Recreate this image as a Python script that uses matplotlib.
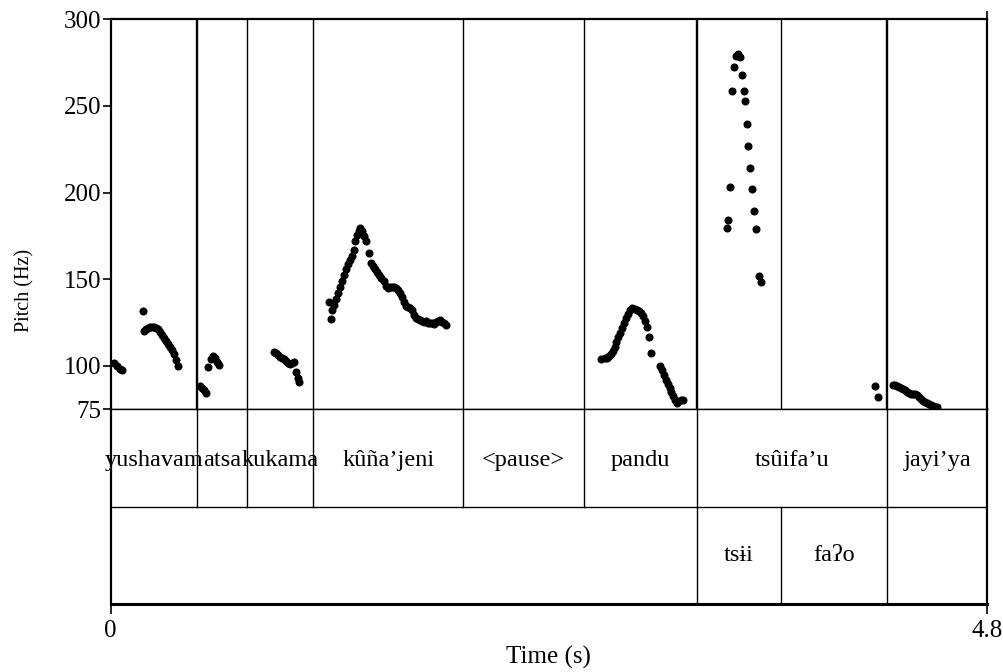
import matplotlib
matplotlib.use("Agg")
import matplotlib.pyplot as plt

plt.rcParams['font.family'] = ['Liberation Serif', 'DejaVu Serif']

# f0 track (time in s, pitch in Hz), one pair of lists per voiced stretch
t_yushavam = [0.016, 0.033, 0.049, 0.060,
              0.175, 0.181, 0.192, 0.203, 0.213, 0.224, 0.235, 0.246, 0.257, 0.268,
              0.279, 0.290, 0.301, 0.312, 0.323, 0.334, 0.345, 0.356, 0.367]
f_yushavam = [101.6, 99.9, 98.1, 97.6,
              131.7, 120.1, 121.3, 121.8, 122.4, 122.4, 122.4, 121.8, 121.3, 119.5,
              117.8, 116.1, 114.3, 112.6, 110.9, 109.1, 106.8, 103.3, 99.9]

t_atsa = [0.487, 0.498, 0.509, 0.520, 0.531, 0.547, 0.558, 0.569, 0.580, 0.591]
f_atsa = [88.3, 87.1, 86.0, 84.3, 99.3, 103.9, 105.7, 104.5, 102.2, 100.5]

t_kukama = [0.892, 0.903, 0.914, 0.925, 0.936, 0.947, 0.958, 0.969, 0.980, 0.991,
            1.002, 1.013, 1.023, 1.029]
f_kukama = [108.0, 107.4, 106.2, 105.1, 104.5, 103.9, 102.8, 101.6, 101.0, 101.6,
            102.2, 96.4, 92.9, 90.6]

t_kuna = [1.193, 1.204, 1.210, 1.221, 1.231, 1.242, 1.253, 1.264, 1.275, 1.286,
          1.297, 1.308, 1.319, 1.330, 1.335, 1.346, 1.357, 1.363, 1.374, 1.385,
          1.396, 1.412, 1.423, 1.434, 1.445, 1.456, 1.467, 1.478, 1.494, 1.505,
          1.516, 1.527, 1.538, 1.549, 1.560, 1.571, 1.582, 1.593, 1.604, 1.615,
          1.626, 1.637, 1.647, 1.658, 1.669, 1.680, 1.691, 1.702, 1.713, 1.724,
          1.735, 1.746, 1.757, 1.768, 1.779, 1.790, 1.801, 1.812, 1.823, 1.834]
f_kuna = [136.9, 127.1, 132.3, 135.2, 138.6, 142.1, 145.6, 149.0, 152.5, 156.0,
          158.9, 161.2, 163.5, 167.0, 172.2, 175.6, 178.0, 179.7, 178.0, 175.1,
          172.2, 165.2, 159.4, 157.7, 156.0, 154.2, 152.5, 150.8, 149.0, 146.1,
          145.0, 145.6, 145.6, 145.6, 145.0, 143.8, 142.1, 139.8, 136.9, 134.6,
          134.0, 133.4, 132.3, 129.4, 127.6, 127.1, 126.5, 125.9, 125.3, 125.9,
          124.7, 124.7, 124.7, 124.2, 125.3, 125.9, 126.5, 125.3, 124.7, 123.6]

t_pandu = [2.687, 2.704, 2.715, 2.726, 2.737, 2.748, 2.759, 2.769, 2.780, 2.791,
           2.802, 2.813, 2.824, 2.835, 2.846, 2.857, 2.868, 2.879, 2.890, 2.901,
           2.912, 2.923, 2.934, 2.945, 2.956, 3.005, 3.016, 3.027, 3.038, 3.049,
           3.060, 3.070, 3.081, 3.092, 3.103, 3.120, 3.131]
f_pandu = [103.9, 104.5, 104.5, 105.7, 106.8, 108.5, 110.9, 113.8, 116.6, 119.0,
           121.8, 124.7, 127.6, 129.9, 132.3, 133.4, 132.9, 132.3, 131.7, 130.5,
           128.8, 125.9, 122.4, 116.6, 107.4, 99.9, 97.6, 94.7, 91.8, 89.5,
           87.1, 84.8, 82.5, 80.2, 78.5, 80.2, 80.2]

t_tsui = [3.377, 3.382, 3.393, 3.404, 3.415, 3.426, 3.437, 3.448, 3.459, 3.465,
          3.475, 3.486, 3.492, 3.503, 3.514, 3.525, 3.536, 3.547, 3.563]
f_tsui = [179.7, 184.3, 203.4, 258.4, 272.2, 278.6, 279.8, 278.0, 267.6, 258.9,
          252.6, 239.8, 227.1, 214.4, 202.2, 189.5, 179.1, 151.9, 148.5]

t_jayiya = [4.187, 4.203, 4.285, 4.296, 4.307, 4.318, 4.329, 4.340, 4.351, 4.362,
            4.373, 4.384, 4.395, 4.406, 4.417, 4.428, 4.439, 4.450, 4.461, 4.472,
            4.483, 4.494, 4.504, 4.515, 4.526]
f_jayiya = [88.3, 81.9, 88.9, 88.9, 88.3, 87.7, 87.1, 86.6, 86.0, 84.8,
            84.3, 83.7, 83.7, 83.7, 83.1, 81.9, 80.8, 79.6, 79.0, 78.5,
            77.9, 77.3, 76.7, 76.2, 76.2]

# annotation tiers
word_bounds = [0, 0.474, 0.748, 1.109, 1.931, 2.592, 3.209, 4.252, 4.8]
word_labels = ["yushavam", "atsa", "kukama", "kûña’jeni", "<pause>", "pandu",
               "tsûifa’u", "jayi’ya"]
syl_bounds = [0, 3.209, 3.669, 4.252, 4.8]
syl_labels = ["", "tsɨi", "faʔo", ""]
heavy_bounds = [0.474, 3.209, 4.252]

pitch_ticks = [75, 100, 150, 200, 250, 300]
t_end = 4.8

fig = plt.figure(figsize=(10.04, 6.72), dpi=100)
ax = fig.add_axes([0.1103, 0.3909, 0.8731, 0.5804])
tg = fig.add_axes([0.1103, 0.1007, 0.8731, 0.2902])

# pitch panel
tracks = [(t_yushavam, f_yushavam), (t_atsa, f_atsa), (t_kukama, f_kukama),
          (t_kuna, f_kuna), (t_pandu, f_pandu), (t_tsui, f_tsui),
          (t_jayiya, f_jayiya)]
for tt, ff in tracks:
    ax.plot(tt, ff, 'o', color='black', ms=5.8, mew=0, clip_on=False)

for b in sorted(set(word_bounds[1:-1]) | set(syl_bounds[1:-1])):
    ax.axvline(b, color='black', lw=1.7 if b in heavy_bounds else 1.0)

ax.set_xlim(0, t_end)
ax.set_ylim(75, 300)
ax.set_yticks(pitch_ticks)
ax.set_yticklabels([str(v) for v in pitch_ticks], fontsize=18)
ax.tick_params(axis='y', direction='out', length=6, width=1.2, pad=0.5)
ax.set_xticks([t_end])
ax.tick_params(axis='x', bottom=False, labelbottom=False, top=True,
               direction='out', length=6, width=1.2)
for side in ['left', 'top', 'right']:
    ax.spines[side].set_linewidth(1.6)
ax.spines['bottom'].set_linewidth(1.0)

# text grid tiers
tg.set_xlim(0, t_end)
tg.set_ylim(0, 2)
tg.axhline(1, color='black', lw=1.0)
for b in word_bounds[1:-1]:
    tg.plot([b, b], [1, 2], color='black', lw=1.0)
for b in syl_bounds[1:-1]:
    tg.plot([b, b], [0, 1], color='black', lw=1.0)
for a, b, lab in zip(word_bounds[:-1], word_bounds[1:], word_labels):
    tg.text((a + b) / 2, 1.47, lab, ha='center', va='center', fontsize=17.5)
for a, b, lab in zip(syl_bounds[:-1], syl_bounds[1:], syl_labels):
    tg.text((a + b) / 2, 0.5, lab, ha='center', va='center', fontsize=17.5)

tg.set_yticks([])
tg.set_xticks([0, t_end])
tg.set_xticklabels(['0', '4.8'], fontsize=18)
tg.tick_params(axis='x', direction='out', length=7, width=1.2, pad=4)
tg.spines['top'].set_linewidth(1.0)
tg.spines['left'].set_linewidth(1.6)
tg.spines['right'].set_linewidth(1.6)
tg.spines['bottom'].set_linewidth(2.2)

fig.text(0.025, 0.568, 'Pitch (Hz)', rotation=90, ha='center', va='center',
         fontsize=14.5)
fig.text(0.546, 0.0223, 'Time (s)', ha='center', va='center', fontsize=18)

fig.savefig('out.png', dpi=100)
